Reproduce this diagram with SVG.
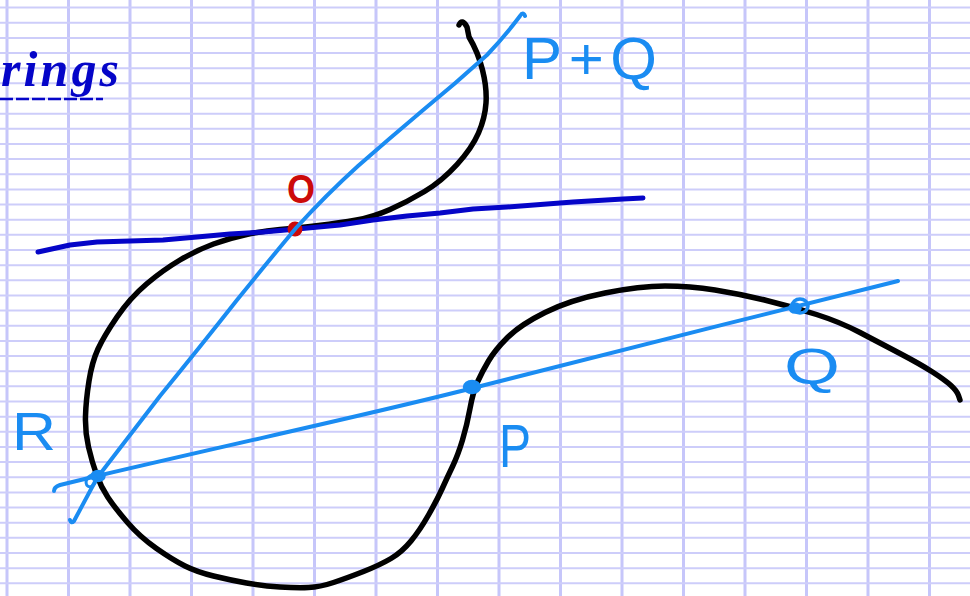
<svg xmlns="http://www.w3.org/2000/svg" width="970" height="596" viewBox="0 0 970 596">
<defs>
<style>
.vg{stroke:#c6c6fa;stroke-width:3}
.hg{stroke:#cdcdfa;stroke-width:2}
.curve{fill:none;stroke:#000;stroke-width:5.5;stroke-linecap:round;stroke-linejoin:round}
.tan{fill:none;stroke:#0505c8;stroke-width:5;stroke-linecap:round;stroke-linejoin:round}
.sec{fill:none;stroke:#1a8cf2;stroke-width:4;stroke-linecap:round;stroke-linejoin:round}
.pt{fill:#1a8cf2;stroke:#1a8cf2;stroke-width:3.5}
.lbl{font-family:"Liberation Sans",Arial,sans-serif;fill:#1a8cf2}
</style>
</defs>
<rect width="970" height="596" fill="#fff"/>
<g id="grid">
<line class="vg" x1="7" y1="0" x2="7" y2="596"/>
<line class="vg" x1="68.5" y1="0" x2="68.5" y2="596"/>
<line class="vg" x1="130" y1="0" x2="130" y2="596"/>
<line class="vg" x1="191.5" y1="0" x2="191.5" y2="596"/>
<line class="vg" x1="253" y1="0" x2="253" y2="596"/>
<line class="vg" x1="314.5" y1="0" x2="314.5" y2="596"/>
<line class="vg" x1="376" y1="0" x2="376" y2="596"/>
<line class="vg" x1="437.5" y1="0" x2="437.5" y2="596"/>
<line class="vg" x1="499" y1="0" x2="499" y2="596"/>
<line class="vg" x1="560.5" y1="0" x2="560.5" y2="596"/>
<line class="vg" x1="622" y1="0" x2="622" y2="596"/>
<line class="vg" x1="683.5" y1="0" x2="683.5" y2="596"/>
<line class="vg" x1="745" y1="0" x2="745" y2="596"/>
<line class="vg" x1="806.5" y1="0" x2="806.5" y2="596"/>
<line class="vg" x1="868" y1="0" x2="868" y2="596"/>
<line class="vg" x1="929.5" y1="0" x2="929.5" y2="596"/>
<path class="hg" d="M0 7.6H970M0 22.75H970M0 37.9H970M0 53.05H970M0 68.2H970M0 83.35H970M0 98.5H970M0 113.65H970M0 128.8H970M0 143.95H970M0 159.1H970M0 174.25H970M0 189.4H970M0 204.55H970M0 219.7H970M0 234.85H970M0 250H970M0 265.15H970M0 280.3H970M0 295.45H970M0 310.6H970M0 325.75H970M0 340.9H970M0 356.05H970M0 371.2H970M0 386.35H970M0 401.5H970M0 416.65H970M0 431.8H970M0 446.95H970M0 462.1H970M0 477.25H970M0 492.4H970M0 507.55H970M0 522.7H970M0 537.85H970M0 553H970M0 568.15H970M0 583.3H970"/>
</g>
<g id="title">
<text x="1" y="86" font-family="'Liberation Serif',serif" font-style="italic" font-weight="bold" font-size="50" fill="#0505c8" textLength="118" lengthAdjust="spacing">rings</text>
<line x1="0" y1="99" x2="103" y2="99" stroke="#0505c8" stroke-width="2.5" stroke-dasharray="13 3"/>
</g>
<g id="curve">
<path class="curve" d="M459,25 Q462,18 467,27 L469,37 Q478,52 482.5,70 Q487,88 486,103 Q485,118 478.5,133 Q472,148 457,164.5 Q442,181 424.5,191.5 Q407,202 390,209.5 Q373,217 356.5,220 Q340,223 318.5,225.5 Q297,228 280,229.5 Q263,231 246.5,234.5 Q230,238 213.5,244 Q197,250 180,260 Q163,270 146.5,284 Q130,298 117,317 Q104,336 98,349 Q92,362 89,381 Q86,400 85.5,416 Q85,432 88.5,447 Q92,462 96.5,474.5 Q101,487 108,497.5 Q115,508 127.5,522.5 Q140,537 156.5,548.5 Q173,560 185,566 Q197,572 213.5,576 Q230,580 246.5,583 Q263,586 280,587 Q297,588 308.5,587.5 Q320,587 333.5,582.5 Q347,578 363.5,571.5 Q380,565 391,558.5 Q402,552 411,541 Q420,530 428.5,515 Q437,500 442,489 Q447,478 452.5,466.5 Q458,455 462.5,440 Q467,425 470,408.5 Q473,392 477.5,382 Q482,372 488.5,361 Q495,350 507.5,337.5 Q520,325 545,312.5 Q570,300 605,293 Q640,286 665,286 Q690,286 715,290 Q740,294 766.5,300.5 Q793,307 816.5,314.5 Q840,322 860,332.5 Q880,343 900,353.5 Q920,364 932.5,372 Q945,380 951,385.5 Q957,391 958.5,395.5 L960,400"/>
</g>
<g id="connectors">
<path id="tangent" class="tan" d="M38,252 L70,245 L97,242 L130,241 L163,240 L197,237 L230,234 L263,232 L297,229 L340,225 L373,220 L407,216 L440,213 L473,209 L507,207 L573,202 L623,199 L643,198"/>
</g>
<g id="O">
<circle cx="295" cy="229" r="7.5" fill="#cc0a0a"/>
<text x="287" y="203" font-family="'Liberation Sans',Arial,sans-serif" font-size="40" font-weight="bold" fill="#cc0a0a" textLength="28" lengthAdjust="spacingAndGlyphs">O</text>
</g>
<g id="secants">
<path id="line-OR" class="sec" d="M70,520 Q71,524 74,521 L97,478 Q130,435 160,396 Q200,347 237,300 Q266,264 296,228 Q326,195 358,166 Q390,138 422,111 Q455,84 487,55 Q505,36 520,16 Q523,11 525,16"/>
<path id="line-RPQ" class="sec" d="M54,491 Q54,487 60,485 L97,476 C250,440 380,412 473,388 C600,356 760,315 898,281"/>
</g>
<g id="R">
<ellipse class="pt" cx="98" cy="476" rx="6" ry="4.5"/>
<ellipse cx="91" cy="481" rx="4.5" ry="6" fill="none" stroke="#1a8cf2" stroke-width="3" transform="rotate(30 91 481)"/>
<text class="lbl" x="12" y="450" font-size="54" textLength="44" lengthAdjust="spacingAndGlyphs">R</text>
</g>
<g id="P">
<ellipse class="pt" cx="472" cy="387" rx="7.5" ry="5.5"/>
<text class="lbl" x="499" y="467" font-size="62" textLength="32" lengthAdjust="spacingAndGlyphs">P</text>
</g>
<g id="Q">
<ellipse cx="800" cy="306" rx="8" ry="7" fill="none" stroke="#1a8cf2" stroke-width="3.5"/>
<ellipse class="pt" cx="795" cy="308" rx="5" ry="4"/>
<text class="lbl" x="784" y="384" font-size="50" textLength="56" lengthAdjust="spacingAndGlyphs">Q</text>
</g>
<g id="PplusQ">
<text class="lbl" x="522" y="79" font-size="60" textLength="135" lengthAdjust="spacing">P+Q</text>
</g>
</svg>
